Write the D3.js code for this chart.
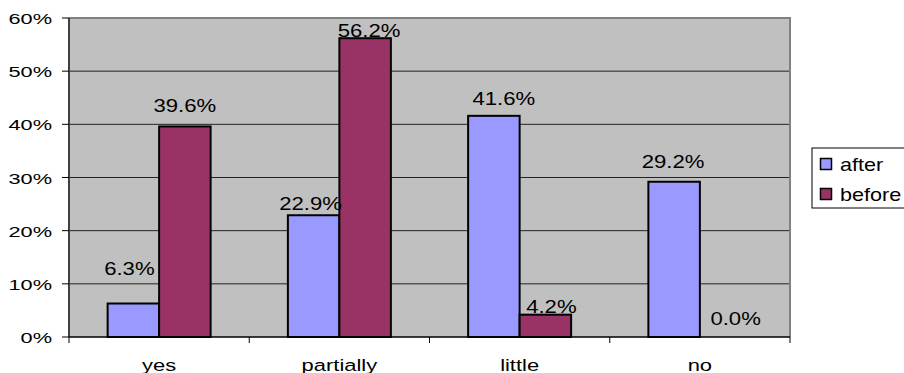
<!DOCTYPE html>
<html><head><meta charset="utf-8">
<script src="https://cdn.jsdelivr.net/npm/d3@7"></script>
<style>body{margin:0;background:#fff}svg{display:block}text{font-family:"Liberation Sans",Arial,sans-serif;fill:#000}</style>
</head><body>
<svg id="c" width="904" height="373"></svg>
<script>
const categories = ["yes", "partially", "little", "no"];
const seriesNames = ["after", "before"];
const afterValues = [6.3, 22.9, 41.6, 29.2];
const beforeValues = [39.6, 56.2, 4.2, 0.0];
const yTicks = [0, 10, 20, 30, 40, 50, 60];

// label nudges (layout, px) as seen in the original
const labelNudge = {
  after:  [[-4, -28.5], [-3, -5.5], [10, -11], [-1, -13.4]],
  before: [[0, -14], [4, -1.5], [6, -1.4], [10, -12]]
};
const colors = {after: "#9999FF", before: "#993366"};

const svg = d3.select("#c");
const L = 69, R = 790, T = 18, B = 337;
const x = d3.scaleBand().domain(categories).range([L, R]).paddingInner(0).paddingOuter(0);
const bw = x.bandwidth() / 3.5;
const y = d3.scaleLinear().domain([0, 60]).range([B, T]);

svg.append("rect").attr("x", L).attr("y", T).attr("width", R - L).attr("height", B - T).attr("fill", "#C0C0C0");
// gridlines
svg.append("g").selectAll("line").data(yTicks.slice(1, -1)).join("line")
  .attr("x1", L).attr("x2", R).attr("y1", d => y(d)).attr("y2", d => y(d))
  .attr("stroke", "#222").attr("stroke-width", 1);
// frame top/right
svg.append("path").attr("d", `M${L},${T}H${R}V${B}`).attr("fill", "none").attr("stroke", "#808080").attr("stroke-width", 2);

const series = [{name: "after", values: afterValues}, {name: "before", values: beforeValues}];
series.forEach((s, si) => {
  const g = svg.append("g");
  g.selectAll("rect").data(s.values).join("rect")
    .attr("x", (d, i) => x(categories[i]) + bw * 0.75 + si * bw)
    .attr("y", d => y(d))
    .attr("width", bw)
    .attr("height", d => B - y(d))
    .attr("fill", colors[s.name])
    .attr("stroke", d => d > 0 ? "#000" : "none").attr("stroke-width", 2);
});

// axes
const yAxis = svg.append("g");
yAxis.append("line").attr("x1", L).attr("x2", L).attr("y1", T).attr("y2", B).attr("stroke", "#404040").attr("stroke-width", 2);
yAxis.selectAll(".tk").data(yTicks).join("line").attr("class", "tk")
  .attr("x1", L - 7).attr("x2", L).attr("y1", d => y(d)).attr("y2", d => y(d)).attr("stroke", "#000").attr("stroke-width", 1);
yAxis.selectAll("text").data(yTicks).join("text")
  .attr("transform", d => `translate(52,${y(d) + 6}) scale(1.45,1)`)
  .attr("text-anchor", "end").attr("font-size", 15).text(d => d + "%");

const xAxis = svg.append("g");
xAxis.append("line").attr("x1", L).attr("x2", R).attr("y1", B).attr("y2", B).attr("stroke", "#000").attr("stroke-width", 1.5);
const bounds = categories.map(c => x(c)).concat([R]);
xAxis.selectAll(".tk").data(bounds).join("line").attr("class", "tk")
  .attr("x1", d => d).attr("x2", d => d).attr("y1", B).attr("y2", B + 6).attr("stroke", "#000").attr("stroke-width", 1);
xAxis.selectAll("text").data(categories).join("text")
  .attr("transform", d => `translate(${x(d) + x.bandwidth() / 2},371) scale(1.29,1)`)
  .attr("text-anchor", "middle").attr("font-size", 17).text(d => d);

// value labels
series.forEach((s, si) => {
  svg.append("g").selectAll("text").data(s.values).join("text")
    .attr("transform", (d, i) => {
      const cx = x(categories[i]) + bw * 0.75 + si * bw + bw / 2 + labelNudge[s.name][i][0];
      const cy = y(d) + labelNudge[s.name][i][1];
      return `translate(${cx},${cy}) scale(1.23,1)`;
    })
    .attr("text-anchor", "middle").attr("font-size", 18).text(d => d.toFixed(1) + "%");
});

// legend
const lg = svg.append("g");
lg.append("rect").attr("x", 812).attr("y", 148).attr("width", 100).attr("height", 60).attr("fill", "#fff").attr("stroke", "#000").attr("stroke-width", 1);
seriesNames.forEach((n, i) => {
  lg.append("rect").attr("x", 820.5).attr("y", 158.5 + i * 30).attr("width", 11).attr("height", 11)
    .attr("fill", colors[n]).attr("stroke", "#000").attr("stroke-width", 1.5);
  lg.append("text").attr("transform", `translate(840,${170.7 + i * 30.3}) scale(1.2,1)`).attr("font-size", 18).text(n);
});
</script>
</body></html>
